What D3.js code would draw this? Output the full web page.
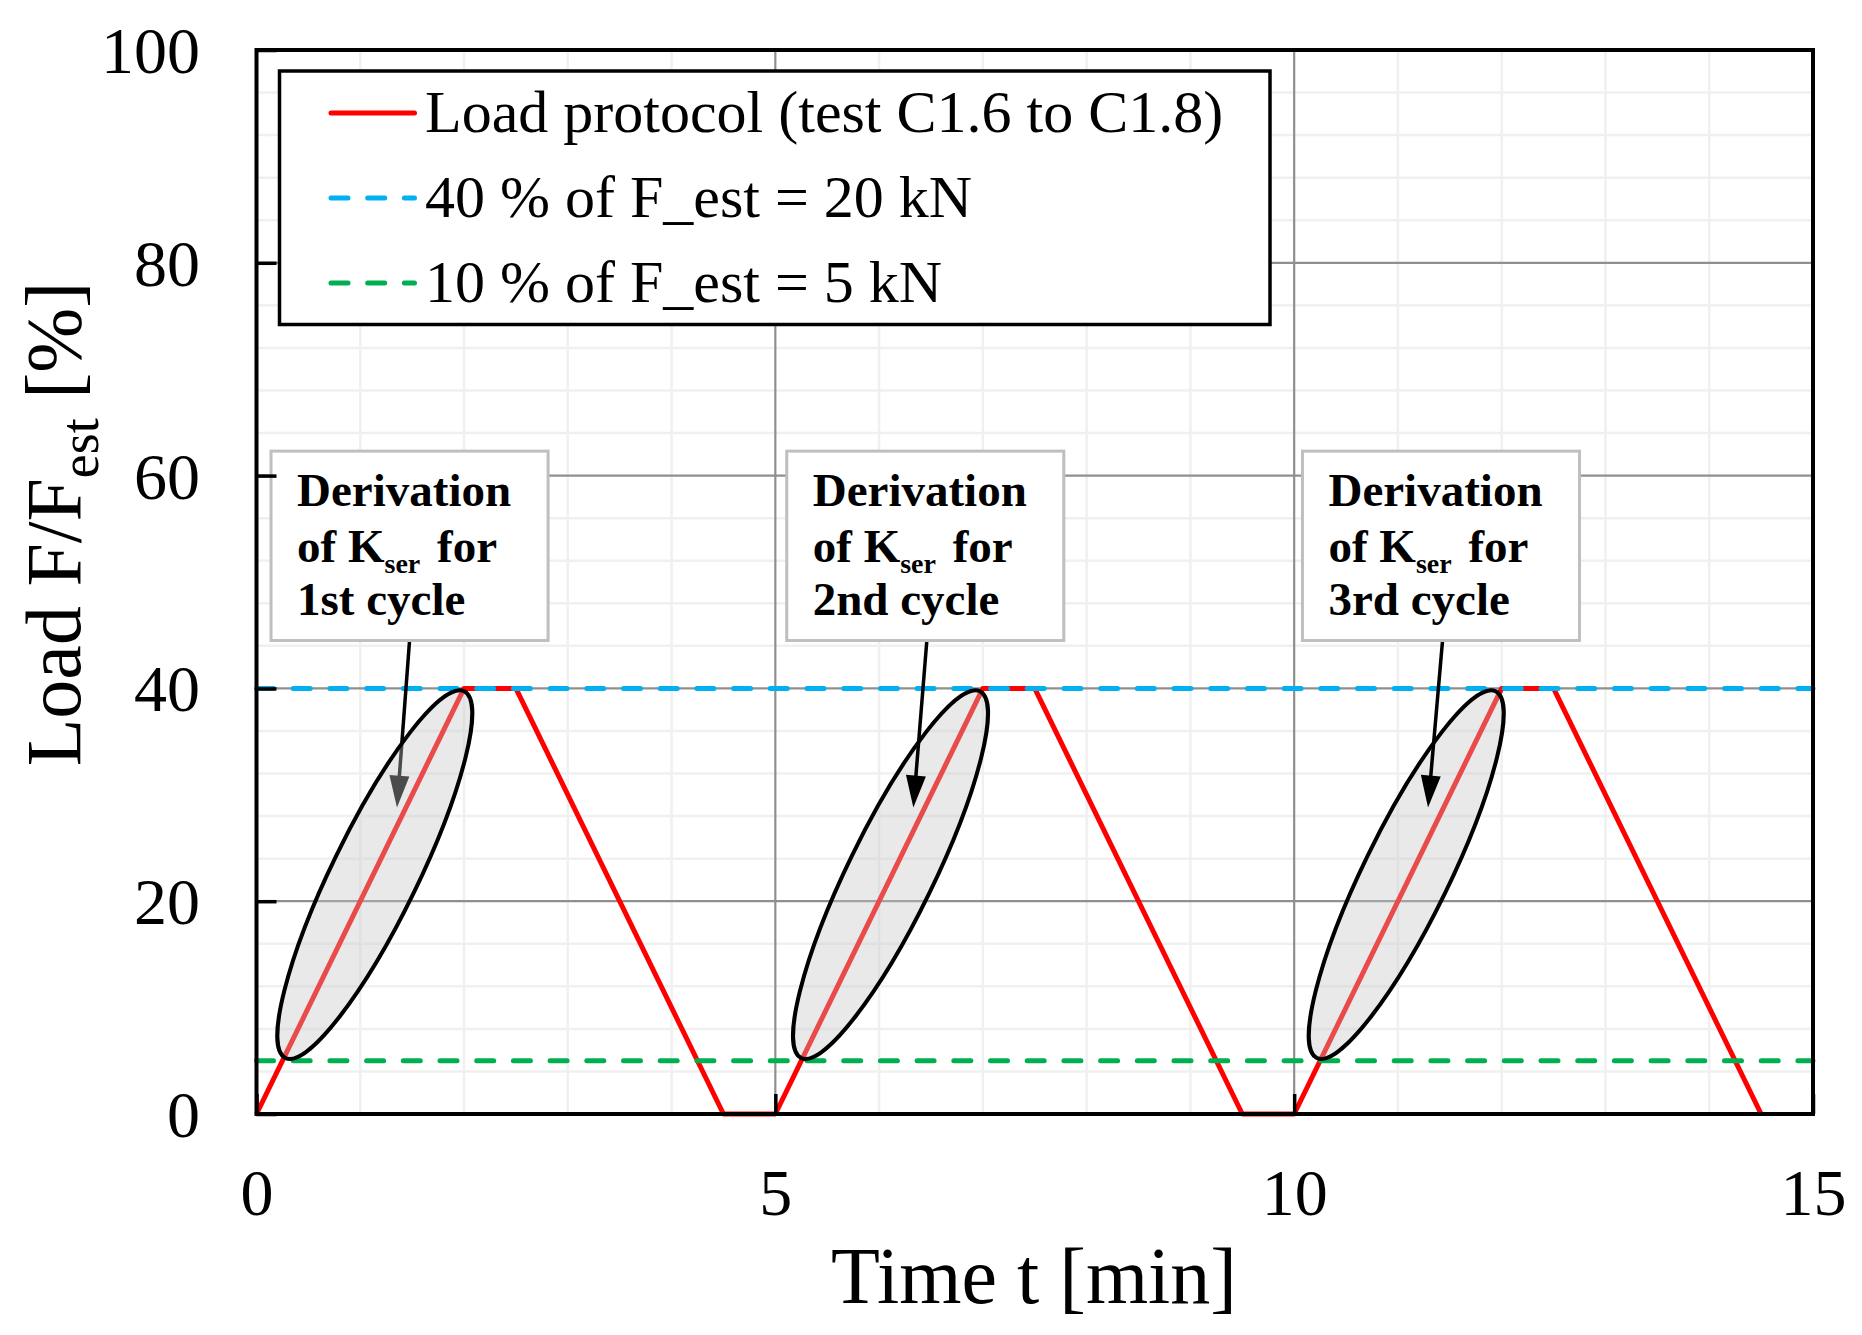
<!DOCTYPE html>
<html>
<head>
<meta charset="utf-8">
<script src="https://cdn.jsdelivr.net/npm/d3@7/dist/d3.min.js"></script>
<style>
  html, body { margin: 0; padding: 0; background: #ffffff; }
  svg { display: block; }
</style>
</head>
<body>
<svg id="chart" width="1862" height="1335"></svg>
<script>
// ---------------- data ----------------
const protocolTime = [0, 2, 2.5, 4.5, 5, 7, 7.5, 9.5, 10, 12, 12.5, 14.5];
const protocolLoad = [0, 40, 40, 0, 0, 40, 40, 0, 0, 40, 40, 0];
const upperLevel = 40;   // 40 % of F_est
const lowerLevel = 5;    // 10 % of F_est line position
const xTicks = [0, 5, 10, 15];
const yTicks = [0, 20, 40, 60, 80, 100];
const legendLabels = ["Load protocol (test C1.6 to C1.8)", "40 % of F_est = 20 kN", "10 % of F_est = 5 kN"];
const cycleLabels = ["1st cycle", "2nd cycle", "3rd cycle"];
// annotation anchors in data units (time, load)
const boxLeftT = [0.14, 5.11, 10.08];
const boxTopLoad = 62.3, boxBottomLoad = 44.5, boxWidthT = 2.67;
const arrowStartT = [1.475, 6.46, 11.43];
const arrowTipT = [1.354, 6.33, 11.29];
const arrowTipLoad = 28.8;
const ellipseCenterT = [1.14, 6.11, 11.08];
const ellipseCenterLoad = 22.5;
const fitStart = [0.25, 5], fitEnd = [2, 40];

// ---------------- layout ----------------
const svg = d3.select("#chart");
const L = 256.5, R = 1813, T = 50, B = 1114;
const x = d3.scaleLinear().domain([0, 15]).range([L, R]);
const y = d3.scaleLinear().domain([0, 100]).range([B, T]);
const serif = "'Liberation Serif', 'Times New Roman', serif";

// minor grid
const minorX = d3.range(1, 15).filter(v => v % 5 !== 0);
const minorY = d3.range(4, 100, 4).filter(v => v % 20 !== 0);
const grid = svg.append("g");
grid.selectAll(".mx").data(minorX).join("line")
  .attr("x1", d => x(d)).attr("x2", d => x(d)).attr("y1", T).attr("y2", B)
  .attr("stroke", "#f0f0f0").attr("stroke-width", 2.5);
grid.selectAll(".my").data(minorY).join("line")
  .attr("x1", L).attr("x2", R).attr("y1", d => y(d)).attr("y2", d => y(d))
  .attr("stroke", "#f0f0f0").attr("stroke-width", 2.5);
// major grid
grid.selectAll(".Mx").data(xTicks.slice(1, -1)).join("line")
  .attr("x1", d => x(d)).attr("x2", d => x(d)).attr("y1", T).attr("y2", B)
  .attr("stroke", "#8f8f8f").attr("stroke-width", 2.2);
grid.selectAll(".My").data(yTicks.slice(1, -1)).join("line")
  .attr("x1", L).attr("x2", R).attr("y1", d => y(d)).attr("y2", d => y(d))
  .attr("stroke", "#8f8f8f").attr("stroke-width", 2.2);

// load protocol
const pts = protocolTime.map((t, i) => [t, protocolLoad[i]]);
const line = d3.line().x(d => x(d[0])).y(d => y(d[1]));
svg.append("path").datum(pts).attr("d", line)
  .attr("fill", "none").attr("stroke", "#ff0000").attr("stroke-width", 5)
  .attr("stroke-linejoin", "round");

// level lines
const dash = "17 19.7";
[[upperLevel, "#00b0f0"], [lowerLevel, "#00b050"]].forEach(([v, c]) => {
  svg.append("line").attr("x1", L).attr("x2", R).attr("y1", y(v)).attr("y2", y(v))
    .attr("stroke", c).attr("stroke-width", 5).attr("stroke-dasharray", dash)
    .attr("stroke-linecap", "round");
});

// arrows
function drawArrow(g, x0, y0, x1, y1) {
  const dx = x1 - x0, dy = y1 - y0, len = Math.hypot(dx, dy);
  const ux = dx / len, uy = dy / len, hl = 32, hw = 10;
  const bx = x1 - ux * hl, by = y1 - uy * hl;
  g.append("line").attr("x1", x0).attr("y1", y0).attr("x2", bx + ux * 2).attr("y2", by + uy * 2)
    .attr("stroke", "#000").attr("stroke-width", 3.5);
  g.append("path")
    .attr("d", `M${x1},${y1}L${bx - uy * hw},${by + ux * hw}L${bx + uy * hw},${by - ux * hw}Z`)
    .attr("fill", "#000");
}

const annot = svg.append("g");
const ang = Math.atan2(y(fitEnd[1]) - y(fitStart[1]), x(fitEnd[0]) - x(fitStart[0])) * 180 / Math.PI;
cycleLabels.forEach((lab, i) => {
  const under = i === 0;
  const arrowArgs = [x(arrowStartT[i]), y(boxBottomLoad), x(arrowTipT[i]), y(arrowTipLoad)];
  if (under) drawArrow(annot, ...arrowArgs);
  const cx = x(ellipseCenterT[i]), cy = y(ellipseCenterLoad);
  annot.append("ellipse").attr("cx", 0).attr("cy", 0).attr("rx", 204).attr("ry", 43)
    .attr("transform", `translate(${cx},${cy}) rotate(${ang})`)
    .attr("fill", "#c4c4c4").attr("fill-opacity", 0.38)
    .attr("stroke", "#000").attr("stroke-width", 4);
  if (!under) drawArrow(annot, ...arrowArgs);
  // box
  const bx0 = x(boxLeftT[i]), by0 = y(boxTopLoad);
  const bw = x(boxLeftT[i] + boxWidthT) - bx0, bh = y(boxBottomLoad) - by0;
  annot.append("rect").attr("x", bx0).attr("y", by0).attr("width", bw).attr("height", bh)
    .attr("fill", "#fff").attr("stroke", "#bfbfbf").attr("stroke-width", 3);
  const tx = bx0 + 26;
  const tg = annot.append("g").attr("font-family", serif).attr("font-weight", "bold")
    .attr("font-size", 47).attr("fill", "#000");
  tg.append("text").attr("x", tx).attr("y", by0 + 55).text("Derivation");
  const t2 = tg.append("text").attr("x", tx).attr("y", by0 + 111);
  t2.append("tspan").text("of K");
  t2.append("tspan").attr("font-size", 28).attr("dy", 11).text("ser");
  t2.append("tspan").attr("dy", -11).attr("dx", 5).text(" for");
  tg.append("text").attr("x", tx).attr("y", by0 + 164).text(lab);
});

// frame
svg.append("rect").attr("x", L).attr("y", T).attr("width", R - L).attr("height", B - T)
  .attr("fill", "none").attr("stroke", "#000").attr("stroke-width", 4);

// axes
const yAxis = svg.append("g").attr("transform", `translate(${L},0)`)
  .call(d3.axisLeft(y).tickValues(yTicks).tickSize(-20).tickPadding(56.5).tickFormat(d3.format("d")));
const xAxis = svg.append("g").attr("transform", `translate(0,${B})`)
  .call(d3.axisBottom(x).tickValues(xTicks).tickSize(-20).tickPadding(54).tickFormat(d3.format("d")));
[yAxis, xAxis].forEach(a => {
  a.select(".domain").remove();
  a.selectAll("line").attr("stroke", "#000").attr("stroke-width", 3.5);
  a.selectAll("text").attr("font-family", serif).attr("font-size", 66).attr("fill", "#000");
});
yAxis.selectAll("text").attr("dy", "0.34em");

// axis titles
svg.append("text").attr("x", 1034).attr("y", 1303).attr("text-anchor", "middle")
  .attr("font-family", serif).attr("font-size", 80).attr("fill", "#000").text("Time t [min]");
const yt = svg.append("text").attr("transform", "translate(80,524) rotate(-90)")
  .attr("text-anchor", "middle").attr("font-family", serif).attr("font-size", 78).attr("fill", "#000");
yt.append("tspan").text("Load F/F");
yt.append("tspan").attr("font-size", 54).attr("dy", 18).text("est");
yt.append("tspan").attr("dy", -18).text(" [%]");

// legend
const lg = svg.append("g");
lg.append("rect").attr("x", 279.5).attr("y", 71).attr("width", 990.5).attr("height", 253.5)
  .attr("fill", "#fff").attr("stroke", "#000").attr("stroke-width", 3.5);
const legendStyles = [
  { c: "#ff0000", d: null },
  { c: "#00b0f0", d: dash },
  { c: "#00b050", d: dash }
];
legendLabels.forEach((lab, i) => {
  const ly = 113 + i * 85;
  const ln = lg.append("line").attr("x1", 331).attr("x2", 414.5).attr("y1", ly).attr("y2", ly)
    .attr("stroke", legendStyles[i].c).attr("stroke-width", 5).attr("stroke-linecap", "round");
  if (legendStyles[i].d) ln.attr("stroke-dasharray", legendStyles[i].d);
  lg.append("text").attr("x", 425).attr("y", ly + 19).attr("font-family", serif)
    .attr("font-size", 60).attr("fill", "#000").text(lab);
});
</script>
</body>
</html>
